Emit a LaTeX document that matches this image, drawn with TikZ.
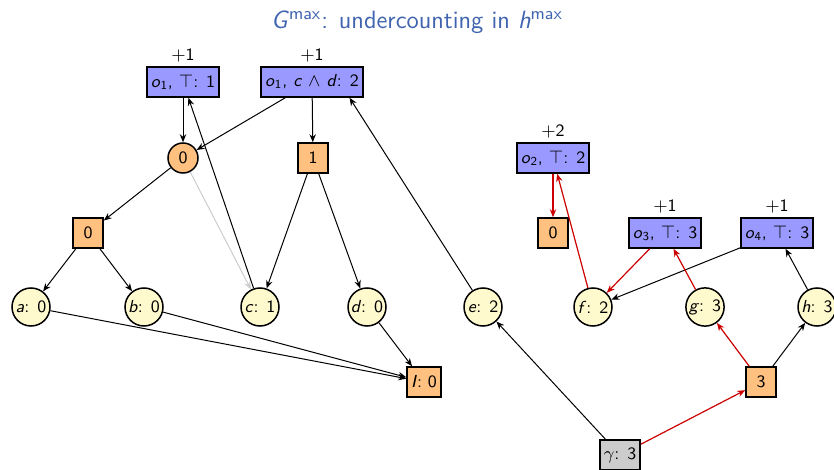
\documentclass[tikz,border=0pt]{standalone}
\usetikzlibrary{arrows.meta,calc}
\definecolor{opblue}{RGB}{153,153,255}
\definecolor{hval}{RGB}{255,192,128}
\definecolor{factc}{RGB}{255,250,205}
\definecolor{goalgray}{RGB}{204,204,204}
\definecolor{titleblue}{RGB}{64,100,175}
\definecolor{critred}{RGB}{204,0,0}
\newcommand{\vv}[1]{\textit{#1}}
\begin{document}
\begin{tikzpicture}[x=0.5pt,y=-0.5pt,
  font=\sffamily\fontsize{8.7}{10}\selectfont,
  >={Stealth[length=4pt,width=3.2pt]},
  opbox/.style={draw,line width=0.75pt,fill=opblue,minimum height=15pt,inner sep=2pt},
  valsq/.style={draw,line width=0.75pt,fill=hval,minimum size=15pt,inner sep=1pt},
  valcirc/.style={draw,circle,line width=0.75pt,fill=hval,minimum size=15pt,inner sep=0.5pt},
  fact/.style={draw,circle,line width=0.75pt,fill=factc,minimum size=19pt,inner sep=0.5pt},
  goalbox/.style={draw,line width=0.75pt,fill=goalgray,minimum size=15pt,inner sep=2pt},
  edge/.style={->,line width=0.5pt},
  crit/.style={edge,critred,line width=0.6pt},
  faint/.style={edge,black!20},
  costlbl/.style={label={[label distance=-1.5pt]above:#1}}
]
\useasboundingbox (0,0) rectangle (834,470);

% title
\node[text=titleblue,font=\sffamily\fontsize{12.5}{14}\selectfont] (title) at (417,22)
  {\vv{G}\textsuperscript{max}: undercounting in \vv{h}\textsuperscript{max}};

% left part
\node[opbox,costlbl={$+$1}] (o1t) at (183,82) {\vv{o}\textsubscript{1}, $\top$: 1};
\node[opbox,costlbl={$+$1}] (o1cd) at (312,82) {\vv{o}\textsubscript{1}, \vv{c} $\wedge$ \vv{d}: 2};
\node[valcirc] (z0) at (183,158) {0};
\node[valsq] (v1) at (313,158) {1};
\node[valsq] (v0l) at (88,233) {0};

\node[fact] (a) at (31,307) {\vv{a}: 0};
\node[fact] (b) at (144,307) {\vv{b}: 0};
\node[fact] (c) at (260,307) {\vv{c}: 1};
\node[fact] (d) at (367,307) {\vv{d}: 0};
\node[fact] (e) at (483,307) {\vv{e}: 2};
\node[fact] (f) at (593,307) {\vv{f}: 2};
\node[fact] (g) at (705,307) {\vv{g}: 3};
\node[fact] (h) at (817,307) {\vv{h}: 3};

\node[valsq,inner sep=2pt] (init) at (424,382) {\vv{I}: 0};
\node[goalbox] (goal) at (620,455) {$\gamma$: 3};
\node[valsq] (v3) at (761,382) {3};

% right part
\node[opbox,costlbl={$+$2}] (o2) at (553,158) {\vv{o}\textsubscript{2}, $\top$: 2};
\node[valsq] (v0r) at (553,233) {0};
\node[opbox,costlbl={$+$1}] (o3) at (665,233) {\vv{o}\textsubscript{3}, $\top$: 3};
\node[opbox,costlbl={$+$1}] (o4) at (777,233) {\vv{o}\textsubscript{4}, $\top$: 3};

% connectors
\draw[edge] (o1t) -- (z0);
\draw[edge] (o1cd) -- (z0);
\draw[edge] (o1cd) -- (v1);
\draw[edge] (z0) -- (v0l);
\draw[faint] (z0) -- (c);
\draw[edge] (c) -- (o1t);
\draw[edge] (v1) -- (c);
\draw[edge] (v1) -- (d);
\draw[edge] (e) -- ($(o1cd.south east)+(-14,0)$);
\draw[edge] (v0l) -- (a);
\draw[edge] (v0l) -- (b);
\draw[edge] (a) -- (init);
\draw[edge] (b) -- (init);
\draw[edge] (d) -- (init);

\draw[edge] (goal) -- (e);
\draw[crit] (goal) -- (v3);
\draw[crit] (v3) -- (g);
\draw[edge] (v3) -- (h);
\draw[edge] (h) -- (o4);
\draw[edge] (o4) -- (f);
\draw[crit] (o3) -- (f);
\draw[crit] (g) -- (o3);
\draw[crit] (f) -- (o2);
\draw[crit] (o2) -- (v0r);
\end{tikzpicture}
\end{document}
